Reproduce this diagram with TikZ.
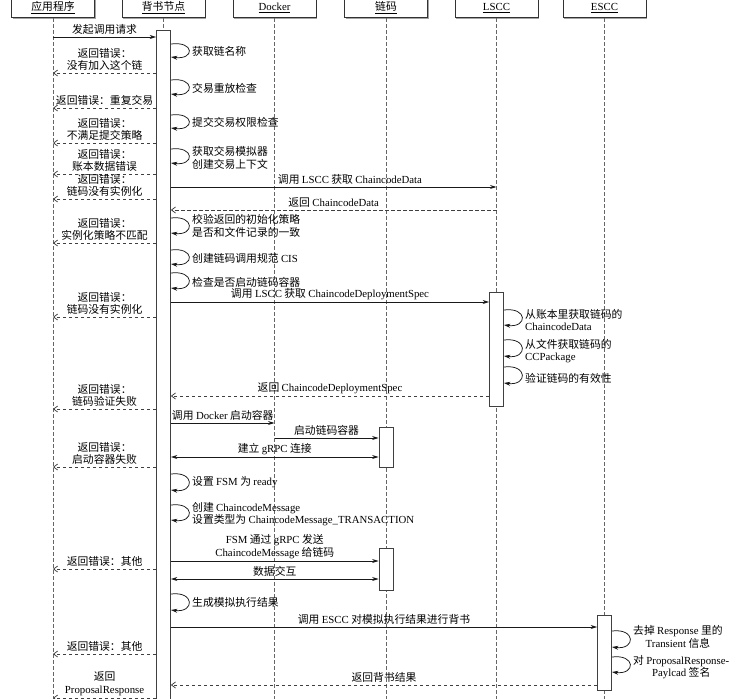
\documentclass[tikz,border=0pt]{standalone}
\usepackage{fontspec}
\setmainfont{Noto Sans CJK SC}
\newfontfamily\en{Liberation Serif}
\usetikzlibrary{arrows.meta,shadows}

\begin{document}
\begin{tikzpicture}[
  x=1pt, y=-1pt,
  font=\fontsize{10.8}{12.5}\selectfont,
  >={Stealth[length=6.5pt,width=4pt]},
  header/.style={draw=black!80, fill=white, minimum width=83pt, text height=13pt, text depth=5pt, inner ysep=2pt, anchor=south, line width=0.8pt, drop shadow={shadow xshift=1.2pt, shadow yshift=-1.2pt, opacity=0.6, fill=black!60}},
  lifeline/.style={draw=black!60, dash pattern=on 4pt off 2pt, line width=0.8pt},
  act/.style={draw=black!75, fill=white, minimum width=14pt, anchor=north, inner sep=0pt, line width=0.8pt, drop shadow={shadow xshift=0.8pt, shadow yshift=-0.8pt, opacity=0.4, fill=black!60}},
  msg/.style={draw=black!90, line width=0.75pt, ->},
  dbl/.style={draw=black!90, line width=0.75pt, <->},
  ret/.style={draw=black!75, line width=0.75pt, dash pattern=on 3.5pt off 2.5pt, arrows={-Straight Barb[length=4pt,width=6pt]}},
  self/.style={draw=black!90, line width=0.75pt, ->},
  lbl/.style={above, inner sep=2pt, align=center},
  note/.style={anchor=west, align=left, inner sep=1pt},
  cnote/.style={anchor=west, align=center, inner sep=1pt}
]
\clip (0,0) rectangle (745,699);

% participants
\node[header] (app) at (53,18) {\underline{应用程序}};
\node[header] (peer) at (163.5,18) {\underline{背书节点}};
\node[header] (docker) at (274.5,18) {\underline{\en Docker}};
\node[header] (cc) at (386,18) {\underline{链码}};
\node[header] (lscc) at (496.5,18) {\underline{\en LSCC}};
\node[header] (escc) at (604.5,18) {\underline{\en ESCC}};
\foreach \n in {app,peer,docker,cc,lscc,escc}
  \draw[lifeline] (\n.south) -- (\n.south |- 0,710);

% activations
\node[act, minimum height=690pt] (apeer) at (peer.south |- 0,30) {};
\node[act, minimum height=114pt] (alscc) at (lscc.south |- 0,292) {};
\node[act, minimum height=40pt] (acc1) at (cc.south |- 0,427) {};
\node[act, minimum height=42pt] (acc2) at (cc.south |- 0,548) {};
\node[act, minimum height=75pt] (aescc) at (escc.south |- 0,615) {};

% request and checks
\draw[msg] (app |- 0,37) -- (apeer.west |- 0,37) node[lbl, midway] (m1) {发起调用请求};
\draw[self] (apeer.east |- 0,44) .. controls +(24,-3) and +(24,3) .. (apeer.east |- 0,57);
\node[note] (s1) at (191,51) {获取链名称};
\draw[ret] (apeer.west |- 0,73) -- (app |- 0,73) node[lbl, midway] (r1) {返回错误：\\没有加入这个链};
\draw[self] (apeer.east |- 0,80) .. controls +(24,-3) and +(24,3) .. (apeer.east |- 0,94);
\node[note] (s2) at (191,88) {交易重放检查};
\draw[ret] (apeer.west |- 0,108) -- (app |- 0,108) node[lbl, midway] (r2) {返回错误：重复交易};
\draw[self] (apeer.east |- 0,115) .. controls +(24,-3) and +(24,3) .. (apeer.east |- 0,128);
\node[note] (s3) at (191,122) {提交交易权限检查};
\draw[ret] (apeer.west |- 0,143) -- (app |- 0,143) node[lbl, midway] (r3) {返回错误：\\不满足提交策略};
\draw[self] (apeer.east |- 0,149) .. controls +(24,-3) and +(24,3) .. (apeer.east |- 0,163);
\node[note] (s4) at (191,158) {获取交易模拟器\\创建交易上下文};
\draw[ret] (apeer.west |- 0,174) -- (app |- 0,174) node[lbl, midway] (r4) {返回错误：\\账本数据错误};

% chaincode data from LSCC
\draw[msg] (apeer.east |- 0,187) -- (lscc |- 0,187) node[lbl, pos=0.55] (m2) {调用 {\en LSCC} 获取 {\en ChaincodeData}};
\draw[ret] (apeer.west |- 0,199) -- (app |- 0,199) node[lbl, midway] (r5) {返回错误：\\链码没有实例化};
\draw[ret] (lscc |- 0,210) -- (apeer.east |- 0,210) node[lbl, midway] (m3) {返回 {\en ChaincodeData}};
\draw[self] (apeer.east |- 0,218) .. controls +(24,-3) and +(24,3) .. (apeer.east |- 0,233);
\node[note] (s5) at (191,226) {校验返回的初始化策略\\是否和文件记录的一致};
\draw[ret] (apeer.west |- 0,243) -- (app |- 0,243) node[lbl, midway] (r6) {返回错误：\\实例化策略不匹配};
\draw[self] (apeer.east |- 0,250) .. controls +(24,-3) and +(24,3) .. (apeer.east |- 0,264);
\node[note] (s6) at (191,258) {创建链码调用规范 {\en CIS}};
\draw[self] (apeer.east |- 0,273) .. controls +(24,-3) and +(24,3) .. (apeer.east |- 0,288);
\node[note] (s7) at (191,282) {检查是否启动链码容器};

% deployment spec
\draw[msg] (apeer.east |- 0,302) -- (alscc.west |- 0,302) node[lbl, midway] (m4) {调用 {\en LSCC} 获取 {\en ChaincodeDeploymentSpec}};
\draw[ret] (apeer.west |- 0,317) -- (app |- 0,317) node[lbl, midway] (r7) {返回错误：\\链码没有实例化};
\draw[self] (alscc.east |- 0,310) .. controls +(24,-3) and +(24,3) .. (alscc.east |- 0,325);
\node[note] (s8) at (524,320) {从账本里获取链码的\\{\en ChaincodeData}};
\draw[self] (alscc.east |- 0,340) .. controls +(24,-3) and +(24,3) .. (alscc.east |- 0,356);
\node[note] (s9) at (524,351) {从文件获取链码的\\{\en CCPackage}};
\draw[self] (alscc.east |- 0,367) .. controls +(24,-3) and +(24,3) .. (alscc.east |- 0,383);
\node[note] (s10) at (524,378) {验证链码的有效性};
\draw[ret] (alscc.west |- 0,396) -- (apeer.east |- 0,396) node[lbl, midway] (m5) {返回 {\en ChaincodeDeploymentSpec}};
\draw[ret] (apeer.west |- 0,409) -- (app |- 0,409) node[lbl, midway] (r8) {返回错误：\\链码验证失败};

% container start
\draw[msg] (apeer.east |- 0,423) -- (docker |- 0,423) node[lbl, midway] (m6) {调用 {\en Docker} 启动容器};
\draw[msg] (docker |- 0,438) -- (acc1.west |- 0,438) node[lbl, midway] (m7) {启动链码容器};
\draw[dbl] (apeer.east |- 0,457) -- (acc1.west |- 0,457) node[lbl, midway] (m8) {建立 {\en gRPC} 连接};
\draw[ret] (apeer.west |- 0,467) -- (app |- 0,467) node[lbl, midway] (r9) {返回错误：\\启动容器失败};
\draw[self] (apeer.east |- 0,474) .. controls +(24,-3) and +(24,3) .. (apeer.east |- 0,490);
\node[note] (s11) at (191,482) {设置 {\en FSM} 为 {\en ready}};
\draw[self] (apeer.east |- 0,505) .. controls +(24,-3) and +(24,3) .. (apeer.east |- 0,520);
\node[note] (s12) at (191,514) {创建 {\en ChaincodeMessage}\\设置类型为 {\en ChaincodeMessage\_TRANSACTION}};

% transaction
\draw[msg] (apeer.east |- 0,561) -- (acc2.west |- 0,561) node[lbl, midway] (m9) {{\en FSM} 通过 {\en gRPC} 发送\\{\en ChaincodeMessage} 给链码};
\draw[ret] (apeer.west |- 0,569) -- (app |- 0,569) node[lbl, midway] (r10) {返回错误：其他};
\draw[dbl] (apeer.east |- 0,579) -- (acc2.west |- 0,579) node[lbl, midway] (m10) {数据交互};
\draw[self] (apeer.east |- 0,594) .. controls +(24,-3) and +(24,3) .. (apeer.east |- 0,610);
\node[note] (s13) at (191,602) {生成模拟执行结果};

% endorsement
\draw[msg] (apeer.east |- 0,627) -- (aescc.west |- 0,627) node[lbl, midway] (m11) {调用 {\en ESCC} 对模拟执行结果进行背书};
\draw[self] (aescc.east |- 0,631) .. controls +(24,-3) and +(24,3) .. (aescc.east |- 0,647);
\node[cnote] (s14) at (632,637) {去掉 {\en Response} 里的\\{\en Transient} 信息};
\draw[self] (aescc.east |- 0,657) .. controls +(24,-3) and +(24,3) .. (aescc.east |- 0,672);
\node[cnote] (s15) at (632,667) {对 {\en ProposalResponse-}\\{\en Paylcad} 签名};
\draw[ret] (apeer.west |- 0,654) -- (app |- 0,654) node[lbl, midway] (r11) {返回错误：其他};
\draw[ret] (aescc.west |- 0,685) -- (apeer.east |- 0,685) node[lbl, midway] (m12) {返回背书结果};
\draw[ret] (apeer.west |- 0,698) -- (app |- 0,698) node[lbl, midway] (r12) {返回\\{\en ProposalResponse}};
\end{tikzpicture}
\end{document}
